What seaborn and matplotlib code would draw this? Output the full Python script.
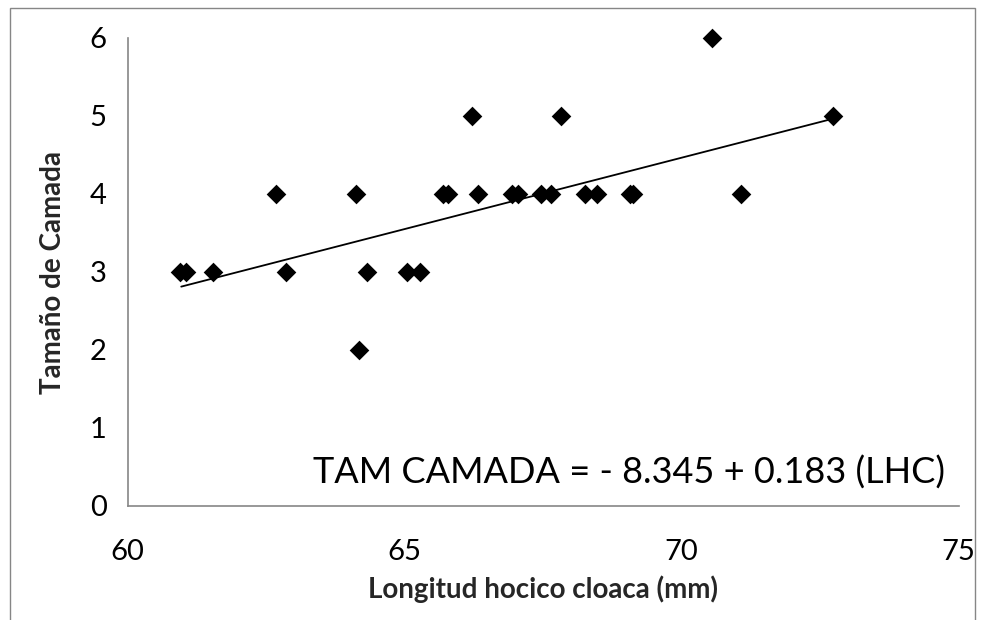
import matplotlib
matplotlib.use("Agg")
import matplotlib.pyplot as plt
import seaborn as sns
import pandas as pd
import numpy as np
from matplotlib.patches import Rectangle

# ---- data ----
lhc = [60.95, 61.05, 61.55, 62.87, 64.32, 65.05, 65.28,
       62.68, 64.12, 65.70, 65.78, 66.32, 66.94, 67.05, 67.46, 67.64,
       68.26, 68.47, 69.07, 69.13, 71.07,
       66.22, 67.82, 72.73,
       70.55,
       64.18]
camada = [3, 3, 3, 3, 3, 3, 3,
          4, 4, 4, 4, 4, 4, 4, 4, 4,
          4, 4, 4, 4, 4,
          5, 5, 5,
          6,
          2]
intercept = -8.345
slope = 0.183
trend_x = [60.97, 72.73]
x_ticks = [60, 65, 70, 75]
y_ticks = [0, 1, 2, 3, 4, 5, 6]
equation = "TAM CAMADA = - 8.345 + 0.183 (LHC)"
xlabel = "Longitud hocico cloaca (mm)"
ylabel = "Tamaño de Camada"

df = pd.DataFrame({"lhc": lhc, "camada": camada})
trend = pd.DataFrame({"x": trend_x, "y": [intercept + slope * v for v in trend_x]})

sns.set_style("white")
plt.rcParams["font.family"] = ["Lato", "DejaVu Sans"]

W, H = 984, 620
fig = plt.figure(figsize=(W / 100, H / 100), dpi=100)
fig.patch.set_facecolor("white")

# chart-area border
fig.add_artist(Rectangle((10 / W, -0.05), (975 - 10) / W, 1.05 - 8 / H,
                         transform=fig.transFigure, fill=False,
                         edgecolor="#868686", linewidth=1.0))

ax = fig.add_axes([127.5 / W, 1 - 506 / H, (958.5 - 127.5) / W, (506 - 38) / H])

sns.lineplot(data=trend, x="x", y="y", ax=ax, color="black", linewidth=1.3)
sns.scatterplot(data=df, x="lhc", y="camada", ax=ax, marker="D", s=100,
                color="black", edgecolor="black", linewidth=0, zorder=3,
                clip_on=False)

ax.set_xlim(60, 75)
ax.set_ylim(0, 6)
ax.set_xticks(x_ticks)
ax.set_yticks(y_ticks)
ax.tick_params(axis="both", direction="out", length=8, width=1.2,
               color="#868686", labelsize=21, labelcolor="black")
ax.tick_params(axis="x", pad=16)
ax.tick_params(axis="y", pad=7)
for side in ["top", "right"]:
    ax.spines[side].set_visible(False)
for side in ["left", "bottom"]:
    ax.spines[side].set_color("#868686")
    ax.spines[side].set_linewidth(1.2)

ax.set_xlabel(xlabel, fontsize=20, fontweight="bold", labelpad=7)
ax.set_ylabel(ylabel, fontsize=20, fontweight="bold", labelpad=17)

ax.text(0.984, 0.072, equation, transform=ax.transAxes, ha="right", va="center",
        fontsize=26, color="black")

fig.savefig("out.png", dpi=100)
